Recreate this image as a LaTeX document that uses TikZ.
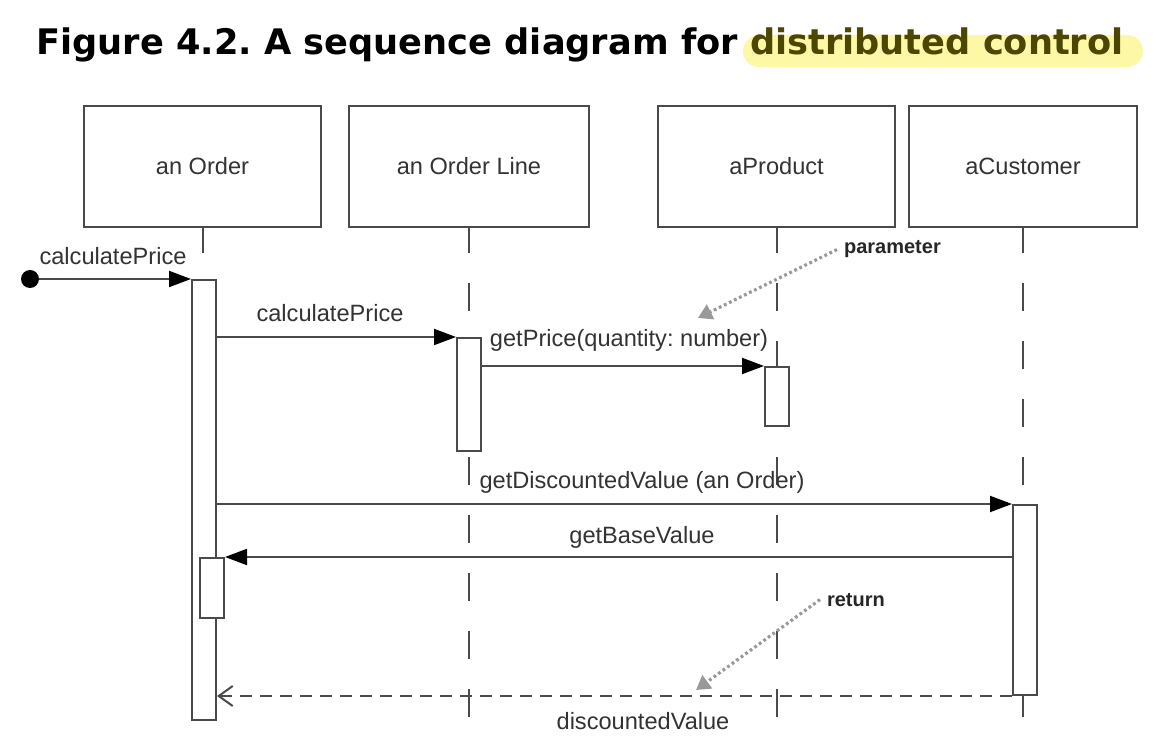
\documentclass[tikz,border=0pt]{standalone}
\usepackage{fontspec}
\setmainfont{Liberation Sans}
\newfontfamily\titlefont{DejaVu Sans}
\usepackage{xcolor}
\usetikzlibrary{positioning}
\usetikzlibrary{calc}
\usetikzlibrary{arrows.meta}
\definecolor{linegray}{HTML}{4A4A4A}
\definecolor{textgray}{HTML}{333333}
\definecolor{notegray}{HTML}{999999}
\definecolor{hlyellow}{HTML}{FCF8A6}
\definecolor{hltext}{HTML}{4B4700}
\frenchspacing

\begin{document}
\begin{tikzpicture}[x=0.5pt,y=-0.5pt,
		every node/.style={font=\fontsize{11.8}{14}\selectfont, text=textgray},
		obj/.style={draw=linegray, line width=1.2pt, minimum width=118.5pt, minimum height=60.5pt, inner sep=0pt},
		act/.style={draw=linegray, line width=1pt, fill=white, minimum width=12pt, inner sep=0pt, anchor=north},
		life/.style={draw=linegray, line width=1pt, dash pattern=on 14pt off 15pt, dash phase=1.5pt},
		msg/.style={draw=linegray, line width=1pt, -{Triangle[length=11pt,width=8pt,color=black]}},
		ret/.style={draw=linegray, line width=1pt, dash pattern=on 6pt off 4pt, -{Straight Barb[length=7pt,width=10pt]}},
		note/.style={draw=notegray, line width=1.6pt, dash pattern=on 1.4pt off 1.4pt, -{Triangle[length=7pt,width=8pt]}},
		notelbl/.style={font=\bfseries\fontsize{10}{12}\selectfont, text=black!85, anchor=base west},
		lbl/.style={anchor=base}]
			\useasboundingbox (0,0) rectangle (1165,747);
			% draw title
			\fill[hlyellow, rounded corners=8pt] (743,35) rectangle (1143,67);
			\node[font=\titlefont\bfseries\fontsize{17.6}{20}\selectfont, text=black, anchor=base west, inner sep=0pt] (title) at (36,55) {Figure 4.2. A sequence diagram for \textcolor{hltext}{distributed control}};
			% draw objects
			\node[obj] (order) at (202.5,166.5) {an Order};
			\node[obj, minimum width=120pt] (line) at (469,166.5) {an Order Line};
			\node[obj] (product) at (776.5,166.5) {aProduct};
			\node[obj, minimum width=114pt] (customer) at (1023,166.5) {aCustomer};
			% draw lifelines
			\coordinate (bottom) at (0,730);
			\draw[life] (order.south) -- (order.south |- 0,700);
			\draw[life] (line.south) -- (line.south |- bottom);
			\draw[life] (product.south) -- (product.south |- bottom);
			\draw[life] (customer.south) -- (customer.south |- bottom);
			% draw activations
			\node[act, minimum height=220pt] (actO) at (204,279) {};
			\node[act, minimum height=56.5pt] (actL) at (469,337) {};
			\node[act, minimum height=29.5pt] (actP) at (777,366) {};
			\node[act, minimum height=95pt] (actC) at (1025,504) {};
			\node[act, minimum height=30pt] (actO2) at (212,557) {};
			% draw messages
			\node[circle, fill=black, minimum size=9pt, inner sep=0pt] (init) at (30,279) {};
			\draw[msg] (init) -- (actO.north west);
			\draw[msg] (actO.east |- actL.north) -- (actL.north west);
			\draw[msg] (actL.east |- actP.north) -- (actP.north west);
			\draw[msg] (actO.east |- actC.north) -- (actC.north west);
			\draw[msg] (actC.west |- actO2.north) -- (actO2.north east);
			\draw[ret] (actC.south west) -- (actO.east |- actC.south);
			% add message labels
			\node[lbl] (calc1) at (113,265) {calculatePrice};
			\node[lbl] (calc2) at (330,322) {calculatePrice};
			\node[lbl] (price) at (629,347) {getPrice(quantity: number)};
			\node[lbl] (disc) at (642,488) {getDiscountedValue (an Order)};
			\node[lbl] (base) at (642,543) {getBaseValue};
			\node[lbl] (dval) at (643,729) {discountedValue};
			% add notes
			\node[notelbl] (param) at (837,254) {parameter};
			\coordinate (paramTip) at (698,318);
			\draw[note] (param.west) -- (paramTip);
			\node[notelbl] (retn) at (820,606) {return};
			\coordinate (retTip) at (696,690);
			\draw[note] (retn.west) -- (retTip);
			
		\end{tikzpicture}
\end{document}
